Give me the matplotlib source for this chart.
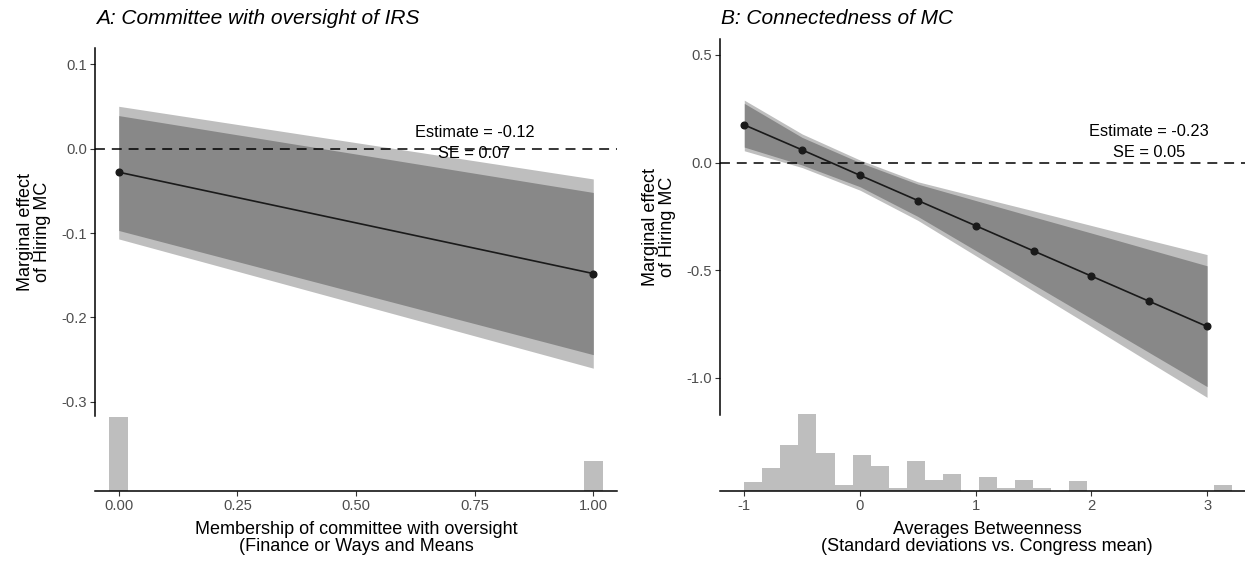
import matplotlib
matplotlib.use("Agg")
import matplotlib.pyplot as plt
import numpy as np

plt.rcParams['font.family'] = ['Liberation Sans', 'DejaVu Sans']
plt.rcParams['axes.unicode_minus'] = False

# ---------------- data ----------------
# Panel A: committee with oversight (binary moderator)
xA = [0.0, 1.0]
estA = [-0.028, -0.148]
hi95A = [0.050, -0.036]
lo95A = [-0.107, -0.260]
hi90A = [0.039, -0.052]
lo90A = [-0.097, -0.244]
histA_centers = [0.0, 1.0]
histA_counts = [22, 9]
yticksA = [0.1, 0.0, -0.1, -0.2, -0.3]
yticklabelsA = ["0.1", "0.0", "-0.1", "-0.2", "-0.3"]
xticksA = [0.0, 0.25, 0.5, 0.75, 1.0]
xticklabelsA = ["0.00", "0.25", "0.50", "0.75", "1.00"]

# Panel B: connectedness (betweenness)
xB = [-1.0, -0.5, 0.0, 0.5, 1.0, 1.5, 2.0, 2.5, 3.0]
estB = [0.175, 0.059, -0.059, -0.176, -0.293, -0.410, -0.527, -0.644, -0.761]
hi95B = [0.290, 0.133, 0.012, -0.089, -0.157, -0.224, -0.292, -0.360, -0.427]
hi90B = [0.275, 0.117, 0.000, -0.100, -0.176, -0.252, -0.327, -0.403, -0.479]
lo90B = [0.072, -0.011, -0.112, -0.250, -0.408, -0.566, -0.724, -0.882, -1.040]
lo95B = [0.055, -0.023, -0.128, -0.268, -0.432, -0.597, -0.761, -0.926, -1.090]
histB_counts = [3.0, 7.9, 16.2, 27.0, 13.4, 2.2, 12.6, 8.6, 1.1, 10.4, 4.0, 5.8, 0.0,
                5.0, 1.1, 4.0, 1.1, 0.0, 3.6, 0, 0, 0, 0, 0, 0, 0, 2.2]
histB_start = -1.0
histB_width = 0.156
yticksB = [0.5, 0.0, -0.5, -1.0]
yticklabelsB = ["0.5", "0.0", "-0.5", "-1.0"]
xticksB = [-1, 0, 1, 2, 3]
xticklabelsB = ["-1", "0", "1", "2", "3"]

titleA = "A: Committee with oversight of IRS"
titleB = "B: Connectedness of MC"
ylab = "Marginal effect\nof Hiring MC"
xlabA = "Membership of committee with oversight\n(Finance or Ways and Means"
xlabB = "Averages Betweenness\n(Standard deviations vs. Congress mean)"
annA = "Estimate = -0.12\nSE = 0.07"
annB = "Estimate = -0.23\nSE = 0.05"

# ---------------- styling ----------------
W, H, DPI = 1245, 563, 100
LIGHT = "#BEBEBE"
DARK = "#888888"
LINE = "#1A1A1A"
TICKC = "#4D4D4D"
TICKFS = 10.6
LABFS = 13.0

fig = plt.figure(figsize=(W / DPI, H / DPI), dpi=DPI)


def ax_px(l, t, r, b):
    return fig.add_axes([l / W, 1 - b / H, (r - l) / W, (b - t) / H])


def style_main(ax):
    for s in ["top", "right", "bottom"]:
        ax.spines[s].set_visible(False)
    ax.spines["left"].set_linewidth(1.1)
    ax.spines["left"].set_color("black")
    ax.tick_params(axis="y", length=3.5, width=0.8, color="#333333",
                   labelsize=TICKFS, labelcolor=TICKC, pad=2)
    ax.set_xticks([])
    ax.patch.set_alpha(0)


def style_hist(ax):
    for s in ["top", "right", "left"]:
        ax.spines[s].set_visible(False)
    ax.spines["bottom"].set_linewidth(1.1)
    ax.spines["bottom"].set_color("black")
    ax.tick_params(axis="x", length=3.5, width=0.8, color="#333333",
                   labelsize=TICKFS, labelcolor=TICKC, pad=2)
    ax.set_yticks([])
    ax.patch.set_alpha(0)


def draw_main(ax, x, est, lo95, hi95, lo90, hi90, ann, annx, anny):
    ax.fill_between(x, lo95, hi95, color=LIGHT, lw=0, zorder=1)
    ax.fill_between(x, lo90, hi90, color=DARK, lw=0, zorder=2)
    ax.axhline(0, color="black", lw=1.1, ls=(0, (6.5, 4.5)), zorder=3)
    ax.plot(x, est, color=LINE, lw=1.2, zorder=4)
    ax.plot(x, est, "o", color=LINE, ms=4.8, zorder=5)
    ax.text(annx, anny, ann, ha="center", va="center", fontsize=11.8,
            linespacing=1.45, color="black", zorder=6)


# ---------------- Panel A ----------------
axA = ax_px(95, 48, 617, 416)
draw_main(axA, xA, estA, lo95A, hi95A, lo90A, hi90A, annA, 0.75, 0.0065)
axA.set_xlim(-0.05, 1.05)
axA.set_ylim(-0.3166, 0.119)
axA.set_yticks(yticksA)
axA.set_yticklabels(yticklabelsA)
style_main(axA)

hA = ax_px(95, 414, 617, 491)
hA.bar(histA_centers, histA_counts, width=0.04, color=LIGHT, lw=0)
hA.set_xlim(-0.05, 1.05)
hA.set_ylim(0, max(histA_counts) * 1.04)
hA.set_xticks(xticksA)
hA.set_xticklabels(xticklabelsA)
style_hist(hA)

# ---------------- Panel B ----------------
axB = ax_px(720, 39, 1254.5, 415)
draw_main(axB, xB, estB, lo95B, hi95B, lo90B, hi90B, annB, 2.5, 0.095)
axB.set_xlim(-1.21, 3.41)
axB.set_ylim(-1.172, 0.574)
axB.set_yticks(yticksB)
axB.set_yticklabels(yticklabelsB)
style_main(axB)

hB = ax_px(720, 411, 1254.5, 491)
lefts = [histB_start + i * histB_width for i in range(len(histB_counts))]
hB.bar(lefts, histB_counts, width=histB_width, align="edge", color=LIGHT, lw=0)
hB.set_xlim(-1.21, 3.41)
hB.set_ylim(0, max(histB_counts) * 1.04)
hB.set_xticks(xticksB)
hB.set_xticklabels(xticklabelsB)
style_hist(hB)

# ---------------- text ----------------
fig.text(96 / W, 1 - 19 / H, titleA, fontsize=15, style="italic",
         ha="left", va="center")
fig.text(721 / W, 1 - 19 / H, titleB, fontsize=15, style="italic",
         ha="left", va="center")
fig.text(34 / W, 1 - 232 / H, ylab, rotation=90, fontsize=LABFS,
         ha="center", va="center", linespacing=1.0)
fig.text(659 / W, 1 - 227 / H, ylab, rotation=90, fontsize=LABFS,
         ha="center", va="center", linespacing=1.0)
fig.text(356 / W, 1 - 538 / H, xlabA, fontsize=LABFS, ha="center",
         va="center", linespacing=1.05)
fig.text(987 / W, 1 - 538 / H, xlabB, fontsize=LABFS, ha="center",
         va="center", linespacing=1.05)

fig.savefig("out.png", dpi=DPI)
